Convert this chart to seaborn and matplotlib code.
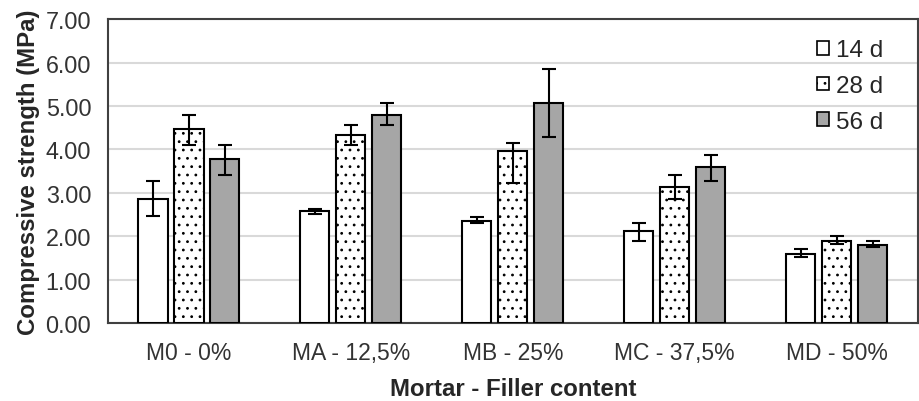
import matplotlib
matplotlib.use("Agg")
import matplotlib.pyplot as plt
import seaborn as sns
import pandas as pd
import numpy as np
from matplotlib.patches import Patch

categories = ["M0 - 0%", "MA - 12,5%", "MB - 25%", "MC - 37,5%", "MD - 50%"]
ages = ["14 d", "28 d", "56 d"]
val_14 = [2.86, 2.58, 2.36, 2.11, 1.60]
val_28 = [4.47, 4.33, 3.96, 3.13, 1.88]
val_56 = [3.77, 4.79, 5.07, 3.59, 1.79]
err_lo_14 = [0.39, 0.06, 0.06, 0.23, 0.09]
err_hi_14 = [0.40, 0.05, 0.08, 0.19, 0.11]
err_lo_28 = [0.37, 0.23, 0.73, 0.28, 0.06]
err_hi_28 = [0.32, 0.23, 0.19, 0.28, 0.13]
err_lo_56 = [0.37, 0.23, 0.78, 0.33, 0.05]
err_hi_56 = [0.33, 0.28, 0.78, 0.28, 0.09]
y_ticks = [0, 1, 2, 3, 4, 5, 6, 7]

sns.set_theme(style="white")
plt.rcParams["font.family"] = ["Liberation Sans", "DejaVu Sans"]
plt.rcParams["hatch.linewidth"] = 0.8
plt.rcParams["hatch.color"] = "black"

df = pd.DataFrame({
    "cat": categories * 3,
    "age": [a for a in ages for _ in categories],
    "val": val_14 + val_28 + val_56,
})

fig = plt.figure(figsize=(9.19, 4.02), dpi=100)
ax = fig.add_axes([0.1175, 0.194, 0.881, 0.756])

colors = ["white", "white", "#a6a6a6"]
sns.barplot(data=df, x="cat", y="val", hue="age", order=categories,
            hue_order=ages, palette=colors, width=0.666, gap=0.19,
            edgecolor="black", linewidth=1.5, errorbar=None, legend=False,
            saturation=1, ax=ax, zorder=3)

errs = [(err_lo_14, err_hi_14), (err_lo_28, err_hi_28), (err_lo_56, err_hi_56)]
bar_conts = list(ax.containers)
for i, cont in enumerate(bar_conts):
    xs, ys = [], []
    for p in cont.patches:
        xs.append(p.get_x() + p.get_width() / 2)
        ys.append(p.get_height())
        if i == 1:
            p.set_hatch("..")
    lo, hi = errs[i]
    ax.errorbar(xs, ys, yerr=[lo, hi], fmt="none", ecolor="black",
                elinewidth=1.5, capsize=5, capthick=1.5, zorder=4)

ax.set_ylim(0, 7)
ax.set_xlim(-0.5, 4.5)
ax.set_yticks(y_ticks)
ax.set_yticklabels([f"{v:.2f}" for v in y_ticks])
ax.yaxis.grid(True, color="#d9d9d9", linewidth=1.5, zorder=0)
ax.set_axisbelow(True)
for s in ax.spines.values():
    s.set_visible(True)
    s.set_color("#404040")
    s.set_linewidth(1.5)
ax.tick_params(axis="y", length=0, labelsize=16.8, pad=12)
ax.tick_params(axis="x", length=0, labelsize=16.5, pad=13)
for t in ax.get_xticklabels() + ax.get_yticklabels():
    t.set_color("#333333")

ax.set_xlabel("Mortar - Filler content", fontsize=17.3, fontweight="bold",
              color="#262626", labelpad=9)
ax.set_ylabel("Compressive strength (MPa)", fontsize=17.3, fontweight="bold",
              color="#262626", labelpad=4)

handles = [
    Patch(facecolor="white", edgecolor="black", linewidth=1.2),
    Patch(facecolor="white", edgecolor="black", linewidth=1.2, hatch=".."),
    Patch(facecolor="#a6a6a6", edgecolor="black", linewidth=1.2),
]
leg = ax.legend(handles, ages, loc="upper right", bbox_to_anchor=(0.985, 1.005),
                frameon=False, fontsize=17.5, handlelength=0.5, handleheight=0.5,
                handletextpad=0.3, labelspacing=0.56)
for t in leg.get_texts():
    t.set_color("#262626")

fig.savefig("out.png", dpi=100)
